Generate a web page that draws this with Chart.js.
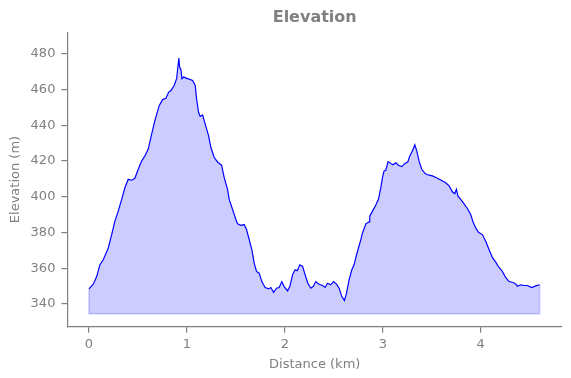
<!DOCTYPE html>
<html>
<head>
<meta charset="utf-8">
<script src="https://cdn.jsdelivr.net/npm/chart.js@4.4.1/dist/chart.umd.min.js"></script>
<style>
  html, body { margin: 0; padding: 0; background: #fff; }
  #wrap { width: 571px; height: 378px; }
</style>
</head>
<body>
<div id="wrap"><canvas id="elevChart"></canvas></div>
<script>
// ===== DATA =====
const distKm = [
  0.000, 0.044, 0.079, 0.112, 0.146, 0.197, 0.232, 0.265, 0.299, 0.334,
  0.367, 0.401, 0.436, 0.469, 0.503, 0.538, 0.571, 0.605, 0.640, 0.673,
  0.717, 0.752, 0.786, 0.813, 0.837, 0.870, 0.895, 0.908, 0.918, 0.926,
  0.939, 0.949, 0.966, 1.007, 1.058, 1.085, 1.099, 1.119, 1.136, 1.160,
  1.187, 1.221, 1.245, 1.279, 1.313, 1.354, 1.381, 1.415, 1.432, 1.466,
  1.500, 1.517, 1.551, 1.585, 1.609, 1.636, 1.663, 1.687, 1.711, 1.738,
  1.765, 1.799, 1.834, 1.857, 1.885, 1.915, 1.942, 1.969, 1.993, 2.028,
  2.051, 2.079, 2.105, 2.128, 2.153, 2.181, 2.207, 2.235, 2.265, 2.289,
  2.316, 2.350, 2.385, 2.411, 2.436, 2.469, 2.497, 2.528, 2.554, 2.582,
  2.609, 2.630, 2.656, 2.684, 2.707, 2.732, 2.752, 2.776, 2.793, 2.827,
  2.860, 2.867, 2.895, 2.929, 2.956, 2.980, 2.997, 3.013, 3.031, 3.054,
  3.082, 3.105, 3.133, 3.160, 3.194, 3.228, 3.255, 3.276, 3.303, 3.327,
  3.347, 3.370, 3.398, 3.432, 3.472, 3.507, 3.548, 3.592, 3.643, 3.677,
  3.711, 3.735, 3.752, 3.768, 3.796, 3.830, 3.864, 3.898, 3.921, 3.949,
  3.977, 4.017, 4.051, 4.085, 4.119, 4.153, 4.187, 4.221, 4.255, 4.289,
  4.330, 4.357, 4.375, 4.408, 4.442, 4.477, 4.520, 4.561, 4.602
];
const elevM = [
  348.4, 351.0, 355.3, 361.9, 364.7, 371.3, 378.8, 386.3, 391.9, 398.5,
  405.0, 409.7, 409.2, 410.3, 415.3, 420.0, 422.8, 426.6, 435.0, 442.5,
  450.9, 454.3, 455.0, 458.4, 459.4, 462.2, 466.0, 472.5, 477.5, 472.5,
  471.2, 466.0, 466.9, 466.0, 465.0, 462.2, 454.7, 447.2, 444.9, 445.7,
  440.6, 434.1, 427.5, 421.9, 419.4, 417.6, 410.6, 404.1, 398.5, 392.9,
  387.2, 384.8, 384.0, 384.4, 381.6, 376.0, 370.4, 362.8, 358.2, 357.2,
  352.5, 349.2, 348.4, 349.2, 346.5, 348.8, 349.2, 352.5, 349.7, 347.3,
  349.7, 356.3, 359.1, 358.6, 361.9, 361.0, 356.3, 351.6, 348.8, 349.7,
  352.5, 351.0, 350.3, 349.2, 351.6, 350.7, 352.5, 351.0, 348.8, 344.1,
  341.9, 346.0, 353.5, 359.1, 361.9, 367.5, 371.3, 376.0, 379.7, 384.8,
  385.9, 389.1, 391.9, 395.3, 398.5, 405.0, 410.6, 414.4, 414.8, 419.6,
  418.5, 417.8, 419.0, 417.6, 416.8, 418.7, 419.4, 422.8, 425.6, 429.0,
  425.6, 420.0, 415.3, 412.9, 412.0, 411.6, 410.6, 409.3, 407.8, 406.0,
  402.7, 401.6, 404.1, 400.3, 398.5, 396.0, 393.4, 390.0, 385.9, 382.5,
  380.1, 378.8, 375.0, 370.4, 366.0, 363.4, 360.4, 358.2, 354.8, 352.5,
  352.0, 351.2, 349.9, 350.7, 350.3, 350.3, 349.2, 350.1, 350.7
];
const fillBase = 334.5;
const xTicks = [0, 1, 2, 3, 4];
const yTicks = [340, 360, 380, 400, 420, 440, 460, 480];

// ===== STYLE =====
const GREY = '#808080';
const FONT = 'DejaVu Sans';

const points = distKm.map((d, i) => ({ x: d, y: elevM[i] }));
const last = distKm.length - 1;
// outline of the filled area (sides + bottom)
const outline = [
  { x: distKm[0], y: elevM[0] },
  { x: distKm[0], y: fillBase },
  { x: distKm[last], y: fillBase },
  { x: distKm[last], y: elevM[last] }
];

new Chart(document.getElementById('elevChart'), {
  type: 'line',
  data: {
    datasets: [{
      label: 'Elevation',
      data: points,
      borderColor: '#0000ff',
      borderWidth: 1.2,
      pointRadius: 0,
      tension: 0,
      fill: { value: fillBase },
      backgroundColor: 'rgba(0,0,255,0.2)'
    }, {
      label: 'edge',
      data: outline,
      borderColor: 'rgba(0,0,255,0.2)',
      borderWidth: 1.5,
      pointRadius: 0,
      fill: false
    }]
  },
  options: {
    responsive: true,
    maintainAspectRatio: false,
    animation: false,
    layout: { padding: { left: 6, right: 9, top: 0, bottom: 4 } },
    plugins: {
      legend: { display: false },
      tooltip: { enabled: false },
      title: {
        display: true,
        text: 'Elevation',
        color: GREY,
        fullSize: false,
        font: { family: FONT, size: 16, weight: 'bold' },
        padding: { top: 8, bottom: 5 }
      }
    },
    scales: {
      x: {
        type: 'linear',
        min: -0.22,
        max: 4.83,
        afterBuildTicks: s => { s.ticks = xTicks.map(v => ({ value: v })); },
        grid: { display: true, drawOnChartArea: false, drawTicks: true, tickLength: 6, color: GREY, lineWidth: 1.2 },
        border: { display: true, color: GREY, width: 1.2 },
        ticks: { color: GREY, font: { family: FONT, size: 13 }, padding: 4, maxRotation: 0 },
        title: { display: true, text: 'Distance (km)', color: GREY, font: { family: FONT, size: 13 }, padding: { top: 0, bottom: 2 } }
      },
      y: {
        min: 327.2,
        max: 492,
        afterBuildTicks: s => { s.ticks = yTicks.map(v => ({ value: v })); },
        grid: { display: true, drawOnChartArea: false, drawTicks: true, tickLength: 6, color: GREY, lineWidth: 1.2 },
        border: { display: true, color: GREY, width: 1.2 },
        ticks: { color: GREY, font: { family: FONT, size: 13 }, padding: 6 },
        title: { display: true, text: 'Elevation (m)', color: GREY, font: { family: FONT, size: 13 }, padding: { top: 2, bottom: 1 } }
      }
    }
  }
});
</script>
</body>
</html>
